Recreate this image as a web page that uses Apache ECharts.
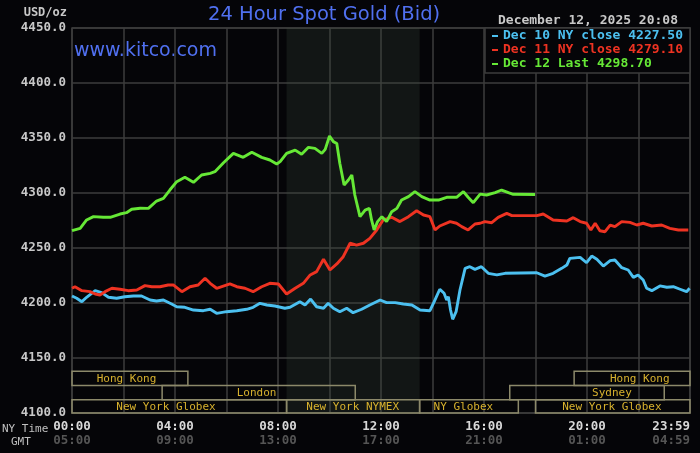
<!DOCTYPE html>
<html lang="en">
<head>
    <meta charset="UTF-8">
    <title>24 Hour Spot Gold</title>
    <script src="https://cdn.jsdelivr.net/npm/echarts@6/dist/echarts.min.js"></script>
    <style>
        html, body { margin: 0; padding: 0; background: #050508; }
        #main { width: 700px; height: 453px; }
    </style>
</head>
<body>
<div id="main"></div>

<script type="text/javascript">

    // minutes after midnight NY time, price in USD/oz
    var dec10 = [
        [0, 4206.4], [11, 4204.3], [23, 4201.2], [34, 4205.2], [54, 4211.2], [69, 4209.4], [85, 4205.2],
        [104, 4204.3], [123, 4205.7], [143, 4206.4], [162, 4206.4], [182, 4202.7], [197, 4201.8], [213, 4202.7],
        [232, 4199.1], [244, 4196.6], [263, 4196.1], [283, 4193.6], [306, 4193.0], [322, 4194.3], [337, 4190.6],
        [360, 4192.1], [384, 4193.0], [407, 4194.3], [422, 4196.1], [438, 4199.7], [454, 4198.2], [473, 4197.3],
        [496, 4195.2], [508, 4196.1], [531, 4201.2], [543, 4198.2], [556, 4203.6], [570, 4196.6], [586, 4195.2],
        [597, 4199.7], [609, 4195.2], [624, 4192.1], [640, 4195.2], [655, 4191.2], [675, 4194.3], [694, 4198.2],
        [718, 4202.7], [733, 4200.3], [753, 4200.3], [772, 4199.1], [792, 4198.2], [811, 4193.6], [834, 4193.0],
        [844, 4201.2], [857, 4212.5], [867, 4208.8], [873, 4202.7], [877, 4205.7], [882, 4193.6], [887, 4185.2],
        [895, 4192.1], [904, 4211.8], [916, 4231.5], [927, 4233.0], [939, 4230.6], [954, 4233.0], [970, 4227.0],
        [990, 4225.5], [1009, 4227.0], [1083, 4227.5], [1102, 4224.5], [1121, 4227.0], [1141, 4231.5], [1153, 4234.5],
        [1160, 4240.6], [1184, 4241.5], [1199, 4236.6], [1211, 4242.7], [1223, 4239.7], [1238, 4233.6], [1254, 4238.5],
        [1265, 4239.1], [1281, 4232.1], [1296, 4230.0], [1308, 4223.3], [1319, 4225.5], [1331, 4220.9], [1339, 4213.4],
        [1351, 4211.2], [1370, 4215.5], [1386, 4214.3], [1401, 4214.8], [1417, 4212.5], [1432, 4210.3], [1439, 4213.4]
    ];

    var dec11 = [
        [0, 4213.4], [7, 4214.8], [23, 4211.2], [42, 4210.3], [54, 4208.2], [65, 4207.3], [77, 4210.3],
        [93, 4213.4], [112, 4212.5], [131, 4211.2], [151, 4211.8], [170, 4215.8], [186, 4214.8], [205, 4214.8],
        [224, 4216.4], [236, 4216.4], [256, 4210.3], [275, 4214.8], [294, 4216.4], [310, 4222.5], [322, 4217.9],
        [337, 4213.4], [368, 4217.3], [384, 4214.8], [403, 4213.4], [422, 4210.3], [442, 4214.8], [461, 4217.9],
        [481, 4217.3], [500, 4208.2], [520, 4213.4], [539, 4217.9], [555, 4225.5], [570, 4228.5], [586, 4239.7],
        [601, 4230.0], [617, 4235.5], [632, 4242.1], [648, 4254.3], [663, 4252.7], [679, 4254.3], [694, 4258.8],
        [710, 4266.4], [725, 4275.5], [745, 4277.9], [764, 4274.0], [784, 4278.5], [803, 4283.9], [819, 4280.0],
        [834, 4278.5], [846, 4266.4], [857, 4270.0], [881, 4274.0], [896, 4272.5], [908, 4269.4], [923, 4266.4],
        [939, 4271.8], [951, 4272.5], [962, 4274.0], [978, 4273.0], [993, 4277.9], [1013, 4281.5], [1025, 4279.4],
        [1083, 4279.4], [1098, 4280.9], [1121, 4275.5], [1153, 4274.5], [1168, 4277.6], [1184, 4274.0], [1199, 4272.5],
        [1209, 4266.4], [1219, 4272.5], [1230, 4265.7], [1242, 4264.8], [1254, 4270.9], [1265, 4269.4], [1281, 4274.0],
        [1300, 4273.3], [1316, 4270.9], [1331, 4272.5], [1351, 4270.0], [1374, 4270.9], [1393, 4267.9], [1413, 4266.4],
        [1436, 4266.4]
    ];

    var dec12 = [
        [0, 4265.7], [19, 4267.9], [34, 4275.5], [50, 4278.5], [73, 4277.9], [89, 4277.9], [112, 4280.9],
        [127, 4282.1], [139, 4285.2], [159, 4286.1], [178, 4286.0], [197, 4292.7], [213, 4295.2], [228, 4302.7],
        [244, 4310.3], [263, 4314.3], [283, 4309.7], [302, 4316.4], [322, 4317.9], [333, 4319.4], [353, 4327.5],
        [376, 4336.0], [399, 4332.4], [419, 4337.0], [442, 4332.4], [461, 4330.0], [477, 4326.4], [485, 4328.5],
        [500, 4336.0], [520, 4339.0], [535, 4335.2], [551, 4341.5], [566, 4340.6], [582, 4336.0], [590, 4339.7],
        [600, 4351.8], [609, 4346.7], [617, 4345.0], [624, 4327.0], [634, 4307.3], [644, 4311.8], [652, 4316.4],
        [659, 4298.2], [671, 4278.5], [683, 4284.5], [693, 4286.0], [698, 4275.5], [704, 4266.4], [712, 4274.0],
        [722, 4278.5], [733, 4274.0], [745, 4283.0], [757, 4286.0], [768, 4293.6], [784, 4296.7], [799, 4301.2],
        [815, 4296.7], [834, 4293.6], [854, 4293.6], [873, 4296.1], [896, 4296.1], [912, 4301.2], [923, 4296.1],
        [935, 4291.2], [951, 4299.0], [966, 4298.2], [986, 4300.3], [1001, 4302.7], [1017, 4300.3], [1028, 4298.8],
        [1079, 4298.7]
    ];

    var seriesNames = ['Dec 10 NY close 4227.50', 'Dec 11 NY close 4279.10', 'Dec 12 Last 4298.70'];
    var seriesColors = ['#4cc0f0', '#ee3322', '#66e836'];

    // trading sessions: [start min, end min, row, label centre min]
    var sessionNames = ['Hong Kong', 'Hong Kong', 'London', 'Sydney',
        'New York Globex', 'New York NYMEX', 'NY Globex', 'New York Globex'];
    var sessionSpans = [
        [0, 270, 0, 127], [1170, 1440, 0, 1323], [210, 660, 1, 430], [1020, 1380, 1, 1258],
        [0, 500, 2, 219], [500, 810, 2, 654], [810, 1040, 2, 912], [1080, 1440, 2, 1258]
    ];
    var sessionRows = [4138, 4125, 4112, 4100];
    var nymexShade = [500, 810];

    var yTicks = [4100, 4450, 50];
    var gmtOffset = 5;

    function hhmm(m) {
        if (m >= 1440) m = 1439;
        var h = Math.floor(m / 60), mm = m % 60;
        return (h < 10 ? '0' : '') + h + ':' + (mm < 10 ? '0' : '') + mm;
    }

    var grey = '#3c3c3c';
    var mono = '"DejaVu Sans Mono", monospace';

    var myChart = echarts.init(document.getElementById('main'));

    var lineSeries = [dec10, dec11, dec12].map(function (d, i) {
        var s = {
            name: seriesNames[i],
            type: 'line',
            data: d,
            showSymbol: false,
            symbol: 'none',
            lineStyle: { color: seriesColors[i], width: 2.9 },
            itemStyle: { color: seriesColors[i] },
            z: 3 + i
        };
        if (i === 0) {
            s.markArea = {
                silent: true,
                itemStyle: { color: 'rgba(60,75,60,0.25)' },
                data: [[{ xAxis: nymexShade[0] }, { xAxis: nymexShade[1] }]]
            };
        }
        return s;
    });

    var sessionSeries = {
        type: 'custom',
        silent: true,
        z: 2,
        data: sessionSpans.map(function (s, i) { return [s[0], s[1], s[2], s[3], i]; }),
        renderItem: function (params, api) {
            var row = api.value(2);
            var p0 = api.coord([api.value(0), sessionRows[row]]);
            var p1 = api.coord([api.value(1), sessionRows[row + 1]]);
            var pl = api.coord([api.value(3), (sessionRows[row] + sessionRows[row + 1]) / 2]);
            return {
                type: 'group',
                children: [{
                    type: 'rect',
                    shape: { x: p0[0], y: p0[1], width: p1[0] - p0[0], height: p1[1] - p0[1] },
                    style: { fill: 'none', stroke: '#8c896a', lineWidth: 1.5 }
                }, {
                    type: 'text',
                    x: pl[0], y: pl[1] + 0.5,
                    style: {
                        text: sessionNames[api.value(4)],
                        fill: '#d8b22e',
                        font: '11px ' + mono,
                        align: 'center',
                        verticalAlign: 'middle'
                    }
                }]
            };
        }
    };

    var option = {
        backgroundColor: '#050508',
        animation: false,
        title: {
            text: '24 Hour Spot Gold (Bid)',
            left: 208,
            top: 5,
            padding: 0,
            textStyle: { color: '#5070f0', fontFamily: 'DejaVu Sans', fontSize: 19.5, fontWeight: 'normal' }
        },
        legend: {
            orient: 'vertical',
            left: 492,
            top: 29,
            padding: 0,
            itemGap: 0,
            itemWidth: 6,
            itemHeight: 2,
            icon: 'rect',
            z: 20,
            data: seriesNames.map(function (n, i) {
                return { name: n, textStyle: { color: seriesColors[i] } };
            }),
            textStyle: { fontFamily: mono, fontSize: 13, fontWeight: 'bold', lineHeight: 14 }
        },
        graphic: [
            {
                type: 'rect', z: 10,
                shape: { x: 485, y: 28, width: 205, height: 45 },
                style: { fill: '#050508', stroke: grey, lineWidth: 1.5 }
            },
            {
                type: 'text', left: 74, top: 42,
                style: { text: 'www.kitco.com', fill: '#5070f0', font: '19px "DejaVu Sans"' }
            },
            {
                type: 'text', x: 678, y: 21,
                style: { text: 'December 12, 2025 20:08', fill: '#c8c8c8', font: 'bold 13px ' + mono, align: 'right', verticalAlign: 'middle' }
            },
            {
                type: 'text', x: 2, y: 429,
                style: { text: 'NY Time', fill: '#c0c0c0', font: '11px ' + mono, verticalAlign: 'middle' }
            },
            {
                type: 'text', x: 11, y: 442,
                style: { text: 'GMT', fill: '#c0c0c0', font: '11px ' + mono, verticalAlign: 'middle' }
            }
        ],
        grid: {
            left: 72,
            right: 10,
            top: 28,
            bottom: 40,
            show: true,
            backgroundColor: 'transparent',
            borderColor: grey,
            borderWidth: 1.5
        },
        xAxis: {
            type: 'value',
            min: 0,
            max: 1440,
            interval: 120,
            axisLine: { show: false },
            axisTick: { show: false },
            splitLine: { show: true, lineStyle: { color: grey, width: 1.5 } },
            axisLabel: {
                margin: 7,
                alignMaxLabel: 'right',
                formatter: function (v) {
                    if (v % 240 !== 0) return '';
                    var g = (v + gmtOffset * 60) % 1440;
                    if (v === 1440) g = (1439 + gmtOffset * 60) % 1440;
                    return '{a|' + hhmm(v) + '}\n{b|' + hhmm(g) + '}';
                },
                rich: {
                    a: { color: '#d8d8d8', fontFamily: mono, fontSize: 12.5, fontWeight: 'bold', lineHeight: 14 },
                    b: { color: '#555555', fontFamily: mono, fontSize: 12.5, fontWeight: 'bold', lineHeight: 14 }
                }
            }
        },
        yAxis: {
            type: 'value',
            min: yTicks[0],
            max: yTicks[1],
            interval: yTicks[2],
            name: 'USD/oz',
            nameGap: 9,
            nameTextStyle: { color: '#c8c8c8', fontFamily: mono, fontSize: 12, fontWeight: 'bold', align: 'right', padding: [0, 5, 0, 0] },
            axisLine: { show: false },
            axisTick: { show: false },
            splitLine: { show: true, lineStyle: { color: grey, width: 1.5 } },
            axisLabel: {
                margin: 6,
                color: '#c8c8c8',
                fontFamily: mono,
                fontSize: 12.5,
                fontWeight: 'bold',
                formatter: function (v) { return v.toFixed(1); }
            }
        },
        series: lineSeries.concat([sessionSeries])
    };

    myChart.setOption(option);

</script>
</body>
</html>
